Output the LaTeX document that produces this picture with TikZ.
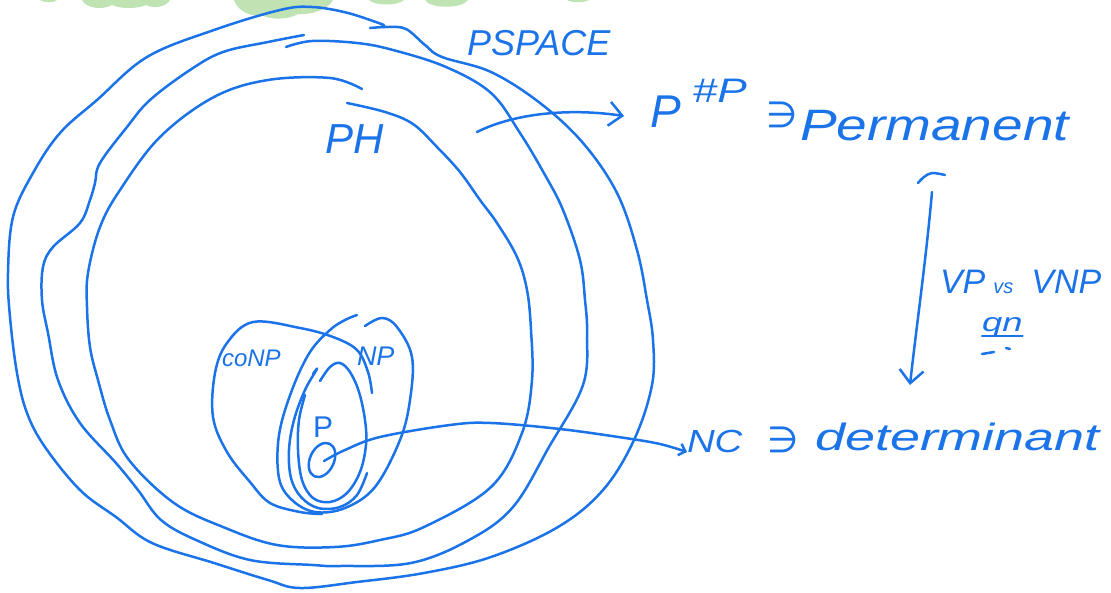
\documentclass[tikz,border=0pt]{standalone}
\usepackage{fontspec}
\setmainfont{Liberation Sans}
\newfontfamily\dejavu{DejaVu Sans}
\usetikzlibrary{arrows.meta}
\definecolor{pen}{HTML}{1A73E8}
\definecolor{hl}{HTML}{BFE3B2}
\newcommand{\fsz}[1]{\fontsize{#1}{#1}\selectfont}
\begin{document}
\begin{tikzpicture}[x=1pt,y=-1pt,
  stroke/.style={draw=pen, line width=2.5pt, line cap=round, line join=round},
  lbl/.style={text=pen, inner sep=0pt, outer sep=0pt},
  conn/.style={stroke, -{Straight Barb[length=13pt,width=24pt]}},
  smallconn/.style={stroke, -{Straight Barb[length=6pt,width=12pt]}}]
\useasboundingbox (0,0) rectangle (1111,592);

% green highlight blobs at the top edge
\fill[hl] (40,0) .. controls (44,3) and (54,3) .. (57,0) -- cycle;
\fill[hl] (82,0) .. controls (86,9) and (104,10) .. (112,5) .. controls (120,9) and (138,9) .. (146,5) .. controls (154,9) and (166,7) .. (170,0) -- cycle;
\fill[hl] (234,0) .. controls (238,12) and (252,17) .. (262,15) .. controls (270,20) and (288,20) .. (298,14) .. controls (310,15) and (328,10) .. (333,0) -- cycle;
\fill[hl] (369,0) .. controls (375,6) and (398,6) .. (404,0) -- cycle;
\fill[hl] (425,0) .. controls (430,9) and (462,9) .. (468,0) -- cycle;
\fill[hl] (567,0) .. controls (572,3) and (584,3) .. (589,0) -- cycle;

% PSPACE (outer)
\draw[stroke] plot[smooth,tension=0.6] coordinates {(370,28) (388,27) (406,29) (425,45) (442,57) (491,72) (540,103) (583,143) (617,193) (637,250) (647,300) (653,340) (652,385) (634,440) (603,490) (558,527) (491,557) (424,573) (357,582) (300,588) (268,580) (214,563) (152,543) (116,517) (80,490) (45,447) (27,413) (17,373) (10,317) (8,273) (13,217) (33,173) (60,133) (97,100) (147,57) (214,30) (280,10) (312,7) (348,13) (384,25)};

% P^#P (middle)
\draw[stroke] plot[smooth,tension=0.6] coordinates {(286,47) (312,41) (357,43) (393,50) (446,67) (491,93) (520,133) (545,175) (563,210) (580,260) (585,300) (587,333) (583,385) (549,447) (513,507) (469,540) (411,563) (340,566) (313,565) (250,560) (196,540) (161,520) (138,490) (116,463) (80,423) (58,380) (48,333) (42,300) (43,267) (53,247) (80,223) (90,200) (95,183) (100,163) (127,127) (150,100) (190,70) (223,52) (268,42) (304,35)};

% PH (inner)
\draw[stroke] plot[smooth,tension=0.6] coordinates {(347,103) (385,112) (413,124) (437,147) (460,172) (480,200) (497,223) (517,257) (527,290) (531,330) (532,380) (522,433) (491,487) (424,527) (380,540) (335,547) (277,545) (223,527) (174,503) (129,460) (110,420) (98,380) (90,347) (87,307) (88,273) (100,227) (120,190) (160,137) (214,97) (268,80) (330,78) (362,89)};

% coNP blob
\draw[stroke] plot[smooth,tension=0.6] coordinates {(372,393) (368,372) (357,350) (333,337) (300,328) (253,322) (227,343) (215,373) (213,417) (227,452) (250,482) (270,503) (300,512) (322,514)};
% NP blob
\draw[stroke] plot[smooth,tension=0.6] coordinates {(357,315) (345,320) (330,330) (310,352) (292,390) (279,435) (279,478) (292,500) (315,512) (345,508) (375,487) (400,440) (410,400) (412,357) (397,327) (382,318) (365,326)};
% inner loops
\draw[stroke] plot[smooth,tension=0.6] coordinates {(313,374) (317,369) (305,390) (294,420) (289,450) (291,478) (301,497) (318,508) (340,507) (357,495) (367,473)};
\draw[stroke] plot[smooth,tension=0.6] coordinates {(320,381) (330,367) (340,363) (350,372) (359,392) (365,420) (366,445) (360,472) (347,493) (330,502) (313,498) (302,480) (298,450) (299,420) (305,395)};
% small set (determinant)
\draw[stroke, rotate around={-25:(322,460)}] (322,460) ellipse [x radius=12, y radius=18];
\coordinate (pc) at (324,461);

% labels
\node[lbl, anchor=base west, font=\itshape\fsz{24}] (conp) at (222,366) {coNP};
\node[lbl, anchor=base west, font=\itshape\fsz{36}] (pspace) at (467,55) {PSPACE};
\node[lbl, anchor=base west, font=\itshape\fsz{42}] (ph) at (325,153) {PH};
\node[lbl, anchor=base west, font=\itshape\fsz{27}] (np) at (357,365) {NP};
\node[lbl, anchor=base west, font=\fsz{30}] (p) at (313,437) {P};

\node[lbl, anchor=base west, font=\itshape\fsz{46}] (sharpP) at (650,127) {P\hspace{12pt}\raisebox{25pt}{\fsz{34}\scalebox{1.3}[1]{\#P}}};
\node[lbl, font=\dejavu\fsz{36}] (ni1) at (782,115) {∋};
\node[lbl, anchor=base west, font=\itshape\fsz{44}] (perm) at (800,140) {\scalebox{1.25}[1]{Permanent}};

\node[lbl, anchor=base west, font=\itshape\fsz{32}] (nc) at (687,452) {\scalebox{1.2}[1]{NC}};
\node[lbl, font=\dejavu\fsz{36}] (ni2) at (783,440) {∋};
\node[lbl, anchor=base west, font=\itshape\fsz{38}] (det) at (815,450) {\scalebox{1.42}[1]{determinant}};

\node[lbl, anchor=base west, font=\itshape\fsz{34}] (vp) at (940,293) {VP\hspace{8pt}{\fsz{20}vs}\hspace{18pt}VNP};
\node[lbl, anchor=base west, font=\itshape\fsz{26}] (qn) at (982,331) {\scalebox{1.4}[1]{qn}};
\draw[stroke] ([yshift=-5pt]qn.base west) -- ([yshift=-5pt]qn.base east);
\draw[stroke] (982,354) -- (994,352);
\draw[stroke] (1006,348) -- (1010,349);

% connectors
\coordinate (phs) at (477,132);
\draw[conn] (phs) .. controls (515,113) and (570,108) .. ([shift={(-26,-11)}]sharpP.base west);

\coordinate (vtop) at (932,192);
\coordinate (vbot) at (910,385);
\draw[stroke] plot[smooth,tension=0.6] coordinates {(918,183) (924,177) (932,173) (945,175)};
\draw[conn] (vtop) .. controls (926,260) and (916,330) .. (vbot);

\draw[smallconn] plot[smooth,tension=0.6] coordinates {(pc) (345,450) (380,437) (450,425) (491,423) (560,429) (625,438) (660,444) (nc.base west)};
\end{tikzpicture}
\end{document}
